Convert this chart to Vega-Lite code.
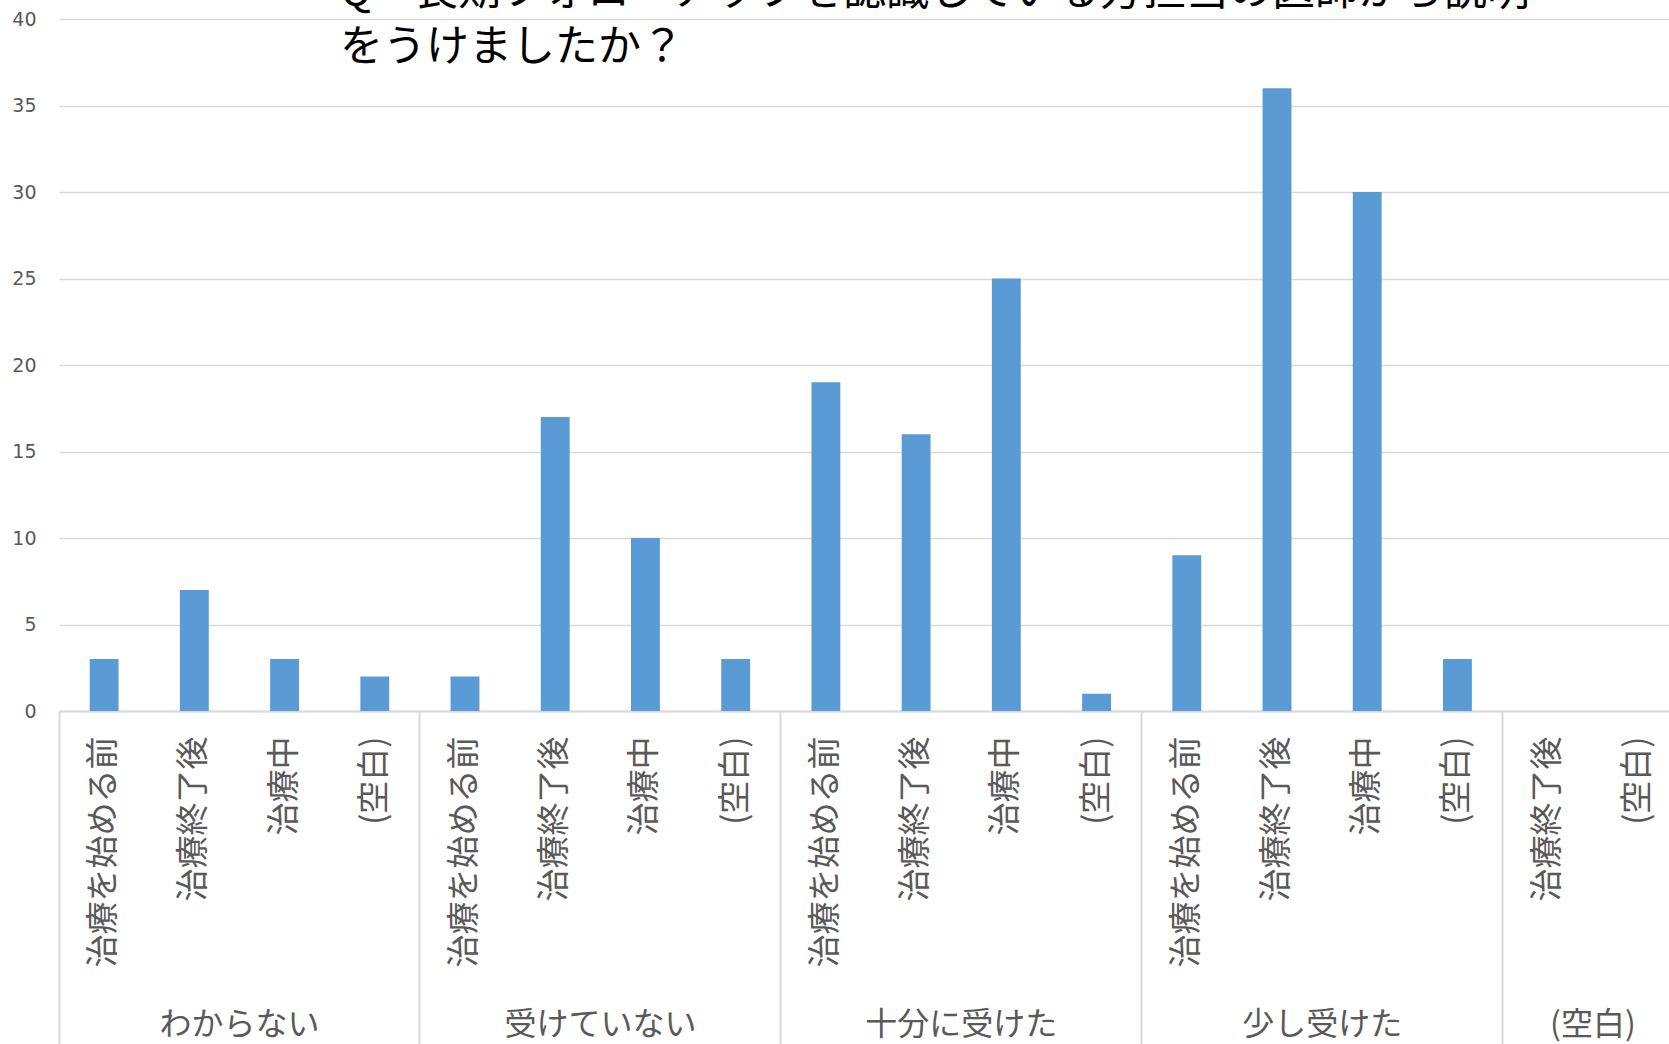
{
  "$schema": "https://vega.github.io/schema/vega-lite/v6.json",
  "width": 1610,
  "height": 692,
  "autosize": "none",
  "padding": {"left": 59, "top": 19, "right": 0, "bottom": 333},
  "background": "white",
  "title": {
    "text": ["Q　長期フォローアップを認識している方担当の医師から説明", "をうけましたか？"],
    "anchor": "start",
    "frame": "group",
    "offset": -60,
    "dx": 281,
    "fontSize": 43,
    "font": "Noto Sans CJK JP",
    "fontWeight": "normal",
    "color": "#000000",
    "lineHeight": 56
  },
  "config": {"view": {"stroke": null}},
  "data": {
    "values": [
      {"g": "わからない", "c": "治療を始める前", "k": "わからない|治療を始める前", "v": 3},
      {"g": "わからない", "c": "治療終了後", "k": "わからない|治療終了後", "v": 7},
      {"g": "わからない", "c": "治療中", "k": "わからない|治療中", "v": 3},
      {"g": "わからない", "c": "(空白)", "k": "わからない|(空白)", "v": 2},
      {"g": "受けていない", "c": "治療を始める前", "k": "受けていない|治療を始める前", "v": 2},
      {"g": "受けていない", "c": "治療終了後", "k": "受けていない|治療終了後", "v": 17},
      {"g": "受けていない", "c": "治療中", "k": "受けていない|治療中", "v": 10},
      {"g": "受けていない", "c": "(空白)", "k": "受けていない|(空白)", "v": 3},
      {"g": "十分に受けた", "c": "治療を始める前", "k": "十分に受けた|治療を始める前", "v": 19},
      {"g": "十分に受けた", "c": "治療終了後", "k": "十分に受けた|治療終了後", "v": 16},
      {"g": "十分に受けた", "c": "治療中", "k": "十分に受けた|治療中", "v": 25},
      {"g": "十分に受けた", "c": "(空白)", "k": "十分に受けた|(空白)", "v": 1},
      {"g": "少し受けた", "c": "治療を始める前", "k": "少し受けた|治療を始める前", "v": 9},
      {"g": "少し受けた", "c": "治療終了後", "k": "少し受けた|治療終了後", "v": 36},
      {"g": "少し受けた", "c": "治療中", "k": "少し受けた|治療中", "v": 30},
      {"g": "少し受けた", "c": "(空白)", "k": "少し受けた|(空白)", "v": 3},
      {"g": "(空白)", "c": "治療終了後", "k": "(空白)|治療終了後", "v": 0},
      {"g": "(空白)", "c": "(空白)", "k": "(空白)|(空白)", "v": 0}
    ]
  },
  "layer": [
    {
      "mark": {"type": "bar", "color": "#5b9bd5", "width": {"band": 0.32}},
      "encoding": {
        "x": {
          "field": "k", "type": "nominal", "sort": null,
          "scale": {"range": [0, 1624], "paddingInner": 0, "paddingOuter": 0},
          "axis": {
            "orient": "bottom", "title": null,
            "labelExpr": "split(datum.value, '|')[1]",
            "labelAngle": 270, "labelAlign": "right", "labelBaseline": "middle",
            "labelPadding": 25, "labelFontSize": 33, "labelFont": "Noto Sans CJK JP",
            "labelColor": "#595959", "labelLimit": 0,
            "ticks": false, "domain": true, "domainColor": "#d9d9d9", "domainWidth": 2,
            "grid": false
          }
        },
        "y": {
          "field": "v", "type": "quantitative",
          "scale": {"domain": [0, 40]},
          "axis": {
            "title": null, "values": [0, 5, 10, 15, 20, 25, 30, 35, 40],
            "domain": false, "ticks": false, "grid": true, "gridColor": "#d9d9d9", "gridWidth": 1.6,
            "labelFontSize": 19, "labelFont": "DejaVu Sans", "labelColor": "#595959", "labelPadding": 23
          }
        }
      }
    },
    {
      "mark": {"type": "bar", "opacity": 0, "width": {"band": 0.32}},
      "encoding": {
        "x": {
          "field": "k", "type": "nominal", "sort": null,
          "axis": {
            "orient": "bottom", "title": null,
            "values": ["わからない|治療を始める前", "受けていない|治療を始める前", "十分に受けた|治療を始める前", "少し受けた|治療を始める前", "(空白)|治療終了後"],
            "bandPosition": 0, "labels": false, "domain": false, "grid": false,
            "ticks": true, "tickSize": 340, "tickColor": "#d9d9d9", "tickWidth": 2
          }
        }
      }
    },
    {
      "mark": {"type": "bar", "opacity": 0, "width": {"band": 0.32}},
      "encoding": {
        "x": {
          "field": "k", "type": "nominal", "sort": null,
          "axis": {
            "orient": "bottom", "title": null,
            "values": ["わからない|治療中", "受けていない|治療中", "十分に受けた|治療中", "少し受けた|治療中", "(空白)|(空白)"],
            "bandPosition": 0, "labelExpr": "split(datum.value, '|')[0]",
            "labelAngle": 0, "labelAlign": "center", "labelBaseline": "middle",
            "labelOffset": -45, "labelPadding": 313, "labelFontSize": 32, "labelFont": "Noto Sans CJK JP",
            "labelColor": "#595959", "labelLimit": 0,
            "domain": false, "grid": false, "ticks": false
          }
        }
      }
    }
  ],
  "resolve": {"axis": {"x": "independent"}}
}
